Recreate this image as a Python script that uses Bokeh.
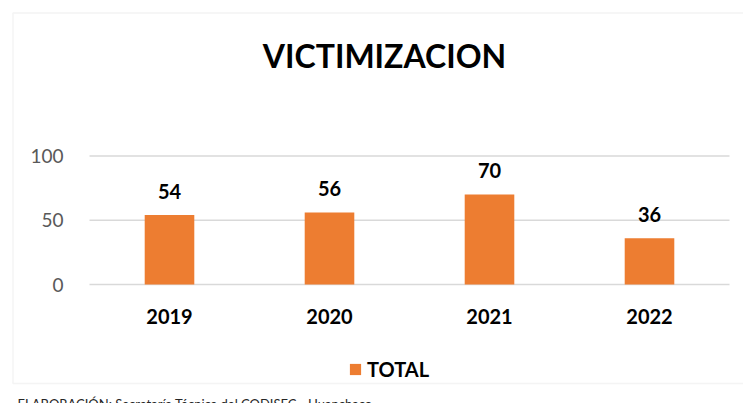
from bokeh.plotting import figure
from bokeh.models import (ColumnDataSource, Range1d, FixedTicker, Legend, LegendItem,
                          Label, BoxAnnotation, LinearAxis)
from bokeh.core.properties import value
from bokeh.embed import file_html
from bokeh.resources import INLINE

years = ["2019", "2020", "2021", "2022"]
totals = [54, 56, 70, 36]
y_ticks = [0, 50, 100]
title_text = "VICTIMIZACION"
series_name = "TOTAL"
source_note = "ELABORACIÓN: Secretaría Técnica del CODISEC - Huanchaco"

BAR = "#ED7D31"
GRID = "#D9D9D9"
FONT = "Lato"

W, H = 743, 403
# layout (pixels): first category centre, category pitch, zero line, px per unit
X0_PX, PITCH = 169.0, 160.0
Y0_PX, PX_PER_UNIT = 284.0, 1.285

xs = list(range(len(years)))
src = ColumnDataSource(dict(x=xs, y=totals, lbl=[str(v) for v in totals]))

x_range = Range1d(-X0_PX / PITCH, (W - X0_PX) / PITCH)
y_range = Range1d(-(H - Y0_PX) / PX_PER_UNIT, Y0_PX / PX_PER_UNIT)

p = figure(width=W, height=H, output_backend="svg", toolbar_location=None,
           x_range=x_range, y_range=y_range,
           x_axis_location=None, y_axis_location=None,
           min_border=0, min_border_left=0, min_border_right=0,
           min_border_top=0, min_border_bottom=0)
p.outline_line_color = None
p.background_fill_color = "white"
p.border_fill_color = "white"
p.grid.visible = False

# outer chart border
p.add_layout(BoxAnnotation(left=12.5, right=W + 40, top=H - 12.5, bottom=H - 383,
                           left_units="screen", right_units="screen",
                           top_units="screen", bottom_units="screen",
                           fill_color=None, line_color=GRID, line_width=1.5,
                           level="underlay"))

# horizontal gridlines over the plot area
gx0 = xs[0] - 0.5
gx1 = xs[-1] + 0.5
p.segment(x0=[gx0] * len(y_ticks), x1=[gx1] * len(y_ticks), y0=y_ticks, y1=y_ticks,
          line_color=GRID, line_width=1.5, level="underlay")

r = p.vbar(x="x", top="y", width=0.31, source=src, fill_color=BAR, line_color=None)
p.text(x="x", y="y", text="lbl", source=src, text_align="center", text_baseline="middle",
       y_offset=-24, text_font=value(FONT), text_font_style="bold", text_font_size="20px",
       text_color="black")

yaxis = LinearAxis(fixed_location=gx0, ticker=FixedTicker(ticks=y_ticks))
yaxis.axis_line_color = None
yaxis.major_tick_line_color = None
yaxis.minor_tick_line_color = None
yaxis.major_tick_out = 0
yaxis.major_tick_in = 0
yaxis.major_label_standoff = 26
yaxis.major_label_text_font = FONT
yaxis.major_label_text_font_size = "19px"
yaxis.major_label_text_color = "#595959"
p.add_layout(yaxis, "left")

xaxis = LinearAxis(fixed_location=0, ticker=FixedTicker(ticks=xs),
                   major_label_overrides={i: y for i, y in zip(xs, years)})
xaxis.axis_line_color = None
xaxis.major_tick_line_color = None
xaxis.minor_tick_line_color = None
xaxis.major_tick_out = 0
xaxis.major_tick_in = 0
xaxis.major_label_standoff = 24
xaxis.major_label_text_font = FONT
xaxis.major_label_text_font_style = "bold"
xaxis.major_label_text_font_size = "20px"
xaxis.major_label_text_color = "black"
p.add_layout(xaxis, "below")

p.add_layout(Label(x=384, y=H - 55, x_units="screen", y_units="screen", text=title_text,
                   text_align="center", text_baseline="middle", text_font=FONT,
                   text_font_style="bold", text_font_size="32px", text_color="black"))

p.add_layout(Label(x=17, y=H - 395, x_units="screen", y_units="screen", text=source_note,
                   text_align="left", text_baseline="top", text_font=FONT,
                   text_font_size="13px", text_color="#262626"))

legend = Legend(items=[LegendItem(label=series_name, renderers=[r])],
                location=(348, 22), orientation="horizontal",
                padding=0, margin=0, border_line_color=None, background_fill_alpha=0,
                glyph_width=14, glyph_height=14, label_standoff=5,
                label_text_font=FONT, label_text_font_style="bold",
                label_text_font_size="20px", label_text_color="black")
p.add_layout(legend, "center")

open("out.html", "w").write(file_html(p, INLINE))
